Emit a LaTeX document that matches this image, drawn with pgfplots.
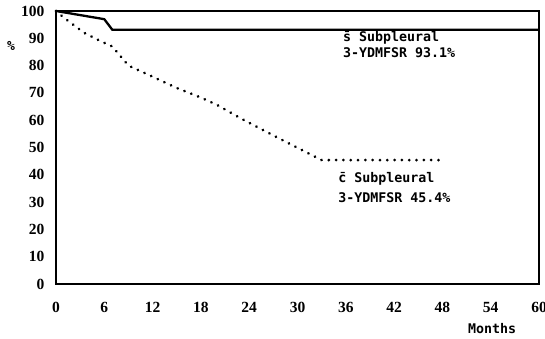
\documentclass[border=0pt]{standalone}
\usepackage{fontspec}
\usepackage{pgfplots}
\pgfplotsset{compat=1.18}
\newfontfamily\tickfont{Liberation Serif}
\newfontfamily\annfont{DejaVu Sans Mono}
\newcommand\annsize{\fontsize{13.3}{16}\selectfont}
\begin{document}
\begin{tikzpicture}
\begin{axis}[name=ax, scale only axis, width=483pt, height=273pt,
  xmin=0, xmax=60, ymin=0, ymax=100,
  xtick={0,6,...,60}, ytick={0,10,...,100},
  major tick length=0pt,
  axis line style={line width=2pt},
  tick label style={font=\tickfont\bfseries\fontsize{15.5}{15.5}\selectfont},
  /pgf/number format/assume math mode=true,
  xticklabel style={yshift=-15pt},
  yticklabel style={xshift=-8pt},
  clip=false]
\addplot[black, line width=2.3pt, line join=round] coordinates {
(0,100) (6,97) (7,93.1) (60,93.1)};
\addplot[black, line width=3pt, line cap=round, dash pattern=on 0.01pt off 7.3pt] coordinates {
(0,100) (1,97.5) (3.5,92) (5.5,89) (7,87) (9,80) (11,77.3) (15,71.8) (18,68.3) (20,65.6) (23,60.6) (27.4,53.8) (33,45.4) (48,45.4)};
\node[anchor=base west, inner sep=0pt, font=\annfont\bfseries\annsize] at (rel axis cs:0.594,0.887) {s̄ Subpleural};
\node[anchor=base west, inner sep=0pt, font=\annfont\bfseries\annsize] at (rel axis cs:0.594,0.828) {3-YDMFSR 93.1\%};
\node[anchor=base west, inner sep=0pt, font=\annfont\bfseries\annsize] at (rel axis cs:0.584,0.373) {c̄ Subpleural};
\node[anchor=base west, inner sep=0pt, font=\annfont\bfseries\annsize] at (rel axis cs:0.584,0.300) {3-YDMFSR 45.4\%};
\node[anchor=base, inner sep=0pt, font=\annfont\bfseries\annsize] at (rel axis cs:0.903,-0.183) {Months};
\node[inner sep=0pt, font=\annfont\bfseries\fontsize{13}{13}\selectfont] at (rel axis cs:-0.093,0.872) {\%};
\end{axis}
\pgfresetboundingbox
\path ([shift={(-56pt,-55pt)}]ax.south west) rectangle ([shift={(6pt,11pt)}]ax.north east);
\end{tikzpicture}
\end{document}
